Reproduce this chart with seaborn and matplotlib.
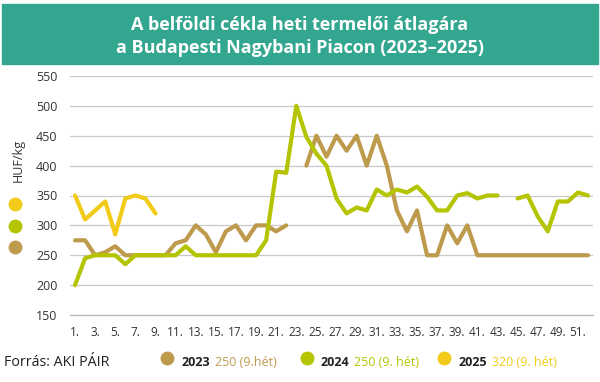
import numpy as np
import pandas as pd
import seaborn as sns
import matplotlib.pyplot as plt

# Weekly producer price of beetroot, HUF/kg (NaN = no quote)
weeks = list(range(1, 53))
price_2023 = [275, 275, 250, 255, 265, 250, 250, 250, 250, 250, 270, 275, 300,
              285, 255, 290, 300, 275, 300, 300, 290, 300, np.nan, 400, 450, 415,
              450, 425, 450, 400, 450, 400, 325, 290, 325, 250, 250, 300, 270,
              300, 250, 250, 250, 250, 250, 250, 250, 250, 250, 250, 250, 250]
price_2024 = [200, 245, 250, 250, 250, 235, 250, 250, 250, 250, 250, 265, 250,
              250, 250, 250, 250, 250, 250, 275, 390, 388, 500, 448, 420, 400,
              345, 320, 330, 325, 360, 350, 360, 355, 365, 348, 325, 325, 350,
              354, 345, 350, 350, np.nan, 345, 350, 315, 290, 340, 340, 355, 350]
price_2025 = [350, 310, 325, 340, 285, 345, 350, 345, 320]

years = ["2023", "2024", "2025"]
week9_notes = ["250 (9.hét)", "250 (9. hét)", "320 (9. hét)"]
colors = {"2023": "#BE9A4D", "2024": "#B5C400", "2025": "#F1CB17"}
title_lines = ["A belföldi cékla heti termelői átlagára",
               "a Budapesti Nagybani Piacon (2023–2025)"]

# long table; a new segment starts after each gap so lines are not bridged
rows = []
for year, values in zip(years, [price_2023, price_2024, price_2025]):
    seg = 0
    for w, v in zip(weeks, values):
        if np.isnan(v):
            seg += 1
            continue
        rows.append({"week": w, "price": v, "year": year, "seg": f"{year}-{seg}"})
df = pd.DataFrame(rows)

sns.set_style("white")
plt.rcParams["font.family"] = ["Open Sans", "DejaVu Sans"]

W, H = 600, 382
fig = plt.figure(figsize=(6, 3.82), dpi=100)
ax = fig.add_axes([70 / W, 67 / H, 523 / W, 239 / H])

sns.lineplot(data=df, x="week", y="price", hue="year", units="seg",
             estimator=None, palette=colors, linewidth=3, legend=False, ax=ax)

ax.set_xlim(0.5, 52.5)
ax.set_ylim(150, 550)
ax.set_yticks(range(150, 551, 50))
ax.set_xticks(range(1, 53, 2))
ax.set_xticklabels([f"{w}." for w in range(1, 53, 2)])
ax.set_xticks(np.arange(0.5, 53, 1), minor=True)
ax.set_xlabel("")
ax.set_ylabel("")
ax.grid(axis="y", color="#C8C8C8", linewidth=0.9)
ax.set_axisbelow(True)
for s in ["left", "right", "top"]:
    ax.spines[s].set_visible(False)
ax.spines["bottom"].set_color("#BBBBBB")
ax.spines["bottom"].set_linewidth(1)
ax.tick_params(axis="y", length=0, pad=9, labelsize=9, labelcolor="#333333")
ax.tick_params(axis="x", which="major", length=0, pad=8, labelsize=8.5,
               labelcolor="#333333")
ax.tick_params(axis="x", which="minor", length=3.6, width=0.8, color="#BBBBBB",
               direction="out")

# header band
fig.patches.append(plt.Rectangle((0.003, 1 - 64 / H), 0.994, 60 / H,
                                 transform=fig.transFigure, color="#33A690",
                                 zorder=0))
fig.text(0.5, 1 - 25 / H, title_lines[0], ha="center", va="center",
         color="white", fontsize=13, fontweight="bold")
fig.text(0.5, 1 - 48 / H, title_lines[1], ha="center", va="center",
         color="white", fontsize=13, fontweight="bold")

fig.text(18 / W, 1 - 160 / H, "HUF/kg", rotation=90, ha="center", va="center",
         fontsize=9, color="#333333")

# colour keys left of the y axis
for year, yp in zip(["2025", "2024", "2023"], [204, 226, 247]):
    ax.scatter([15 / W], [1 - yp / H], s=100, color=colors[year],
               transform=fig.transFigure, clip_on=False, linewidths=0)

# footer: source and legend
fig.text(4 / W, 1 - 363 / H, "Forrás: AKI PÁIR", ha="left", va="center",
         fontsize=10.3, color="#222222")
for year, note, cx, tx, nx in zip(years, week9_notes, [167, 307, 444],
                                  [182, 321, 459], [215, 354, 492]):
    ax.scatter([cx / W], [1 - 358 / H], s=100, color=colors[year],
               transform=fig.transFigure, clip_on=False, linewidths=0)
    fig.text(tx / W, 1 - 363 / H, year, ha="left", va="center", fontsize=9,
             fontweight="bold", color="#222222")
    fig.text(nx / W, 1 - 363 / H, note, ha="left", va="center", fontsize=9,
             color=colors[year])

fig.savefig("out.png", dpi=100)
